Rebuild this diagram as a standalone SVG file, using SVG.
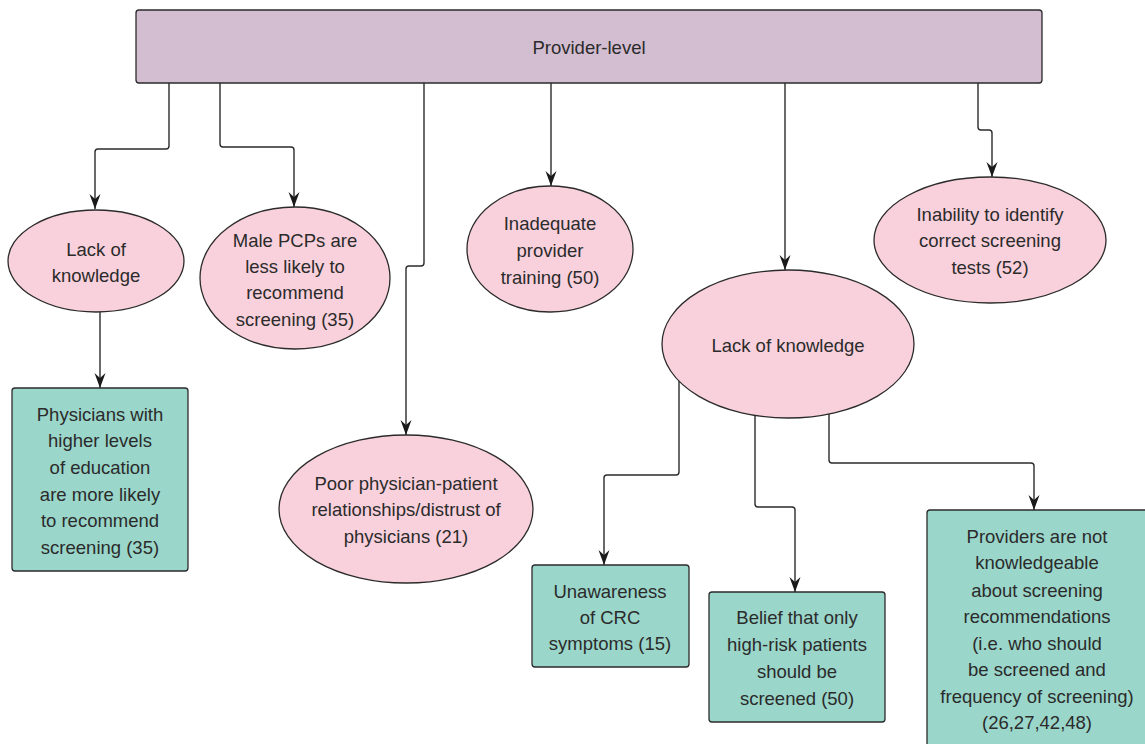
<svg xmlns="http://www.w3.org/2000/svg" width="1145" height="744" viewBox="0 0 1145 744">
<style>
text{font-family:"Liberation Sans",Arial,sans-serif;font-size:18.5px;fill:#2b2b2b;text-anchor:middle}
.bar{fill:#d3bdd0;stroke:#2b2b2b;stroke-width:1.3}
.ell{fill:#f9d1dc;stroke:#2b2b2b;stroke-width:1.3}
.box{fill:#9ad6ca;stroke:#2b2b2b;stroke-width:1.3}
.con path{fill:none;stroke:#2b2b2b;stroke-width:1.4;marker-end:url(#ah)}
</style>
<defs>
<marker id="ah" markerUnits="userSpaceOnUse" markerWidth="16" markerHeight="12" refX="15" refY="6" orient="auto">
<path d="M0,0.5 L15,6 L0,11.5 L5,6 Z" fill="#1a1a1a"/>
</marker>
</defs>
<rect width="1145" height="744" fill="#ffffff"/>
<g id="connectors" class="con">
<path d="M169,83 V146 Q169,149 166,149 H98 Q95,149 95,152 V209"/>
<path d="M220,83 V144 Q220,147 223,147 H291 Q294,147 294,150 V207"/>
<path d="M424,83 V263 Q424,266 421,266 H409 Q406,266 406,269 V435"/>
<path d="M551,83 V186"/>
<path d="M785,83 V270"/>
<path d="M978,83 V127 Q978,130 981,130 H989 Q992,130 992,133 V177"/>
<path d="M100,312 V388"/>
<path d="M679,381 V472 Q679,475 676,475 H607 Q604,475 604,478 V565"/>
<path d="M755,416 V504 Q755,507 758,507 H792 Q795,507 795,510 V592"/>
<path d="M829,414 V460 Q829,463 832,463 H1031 Q1034,463 1034,466 V510"/>
</g>
<g id="provider-level">
<rect class="bar" x="136" y="10" width="906" height="73" rx="3"/>
<text x="589" y="53.5">Provider-level</text>
</g>
<g id="lack-knowledge-left">
<ellipse class="ell" cx="96" cy="261" rx="88" ry="51"/>
<text x="96" y="255.5">Lack of</text>
<text x="96" y="281.5">knowledge</text>
</g>
<g id="male-pcps">
<ellipse class="ell" cx="295" cy="278" rx="95" ry="71"/>
<text x="295" y="246.5">Male PCPs are</text>
<text x="295" y="272.5">less likely to</text>
<text x="295" y="299">recommend</text>
<text x="295" y="325.5">screening (35)</text>
</g>
<g id="physicians-education">
<rect class="box" x="12" y="388" width="176" height="183" rx="3"/>
<text x="100" y="420.5">Physicians with</text>
<text x="100" y="446.5">higher levels</text>
<text x="100" y="473.5">of education</text>
<text x="100" y="500.5">are more likely</text>
<text x="100" y="526.5">to recommend</text>
<text x="100" y="553.5">screening (35)</text>
</g>
<g id="poor-relationships">
<ellipse class="ell" cx="406" cy="509" rx="127" ry="74"/>
<text x="406" y="489.5">Poor physician-patient</text>
<text x="406" y="515.5">relationships/distrust of</text>
<text x="406" y="542.5">physicians (21)</text>
</g>
<g id="inadequate-training">
<ellipse class="ell" cx="550" cy="249" rx="83" ry="63"/>
<text x="550" y="229.5">Inadequate</text>
<text x="550" y="256.5">provider</text>
<text x="550" y="283.5">training (50)</text>
</g>
<g id="lack-knowledge-right">
<ellipse class="ell" cx="788" cy="344" rx="126" ry="74"/>
<text x="788" y="351.5">Lack of knowledge</text>
</g>
<g id="inability-tests">
<ellipse class="ell" cx="990" cy="240" rx="116" ry="63"/>
<text x="990" y="220.5">Inability to identify</text>
<text x="990" y="246.5">correct screening</text>
<text x="990" y="273.5">tests (52)</text>
</g>
<g id="unawareness-crc">
<rect class="box" x="532" y="565" width="157" height="102" rx="3"/>
<text x="610" y="597.5">Unawareness</text>
<text x="610" y="623.5">of CRC</text>
<text x="610" y="649.5">symptoms (15)</text>
</g>
<g id="belief-high-risk">
<rect class="box" x="709" y="592" width="176" height="130" rx="3"/>
<text x="797" y="623.5">Belief that only</text>
<text x="797" y="651">high-risk patients</text>
<text x="797" y="678">should be</text>
<text x="797" y="704.5">screened (50)</text>
</g>
<g id="providers-not-knowledgeable">
<rect class="box" x="927" y="510" width="222" height="245" rx="3"/>
<text x="1037" y="542.5">Providers are not</text>
<text x="1037" y="568.5">knowledgeable</text>
<text x="1037" y="596.5">about screening</text>
<text x="1037" y="622.5">recommendations</text>
<text x="1037" y="649.5">(i.e. who should</text>
<text x="1037" y="675.5">be screened and</text>
<text x="1037" y="702.5">frequency of screening)</text>
<text x="1037" y="728.5">(26,27,42,48)</text>
</g>
</svg>
